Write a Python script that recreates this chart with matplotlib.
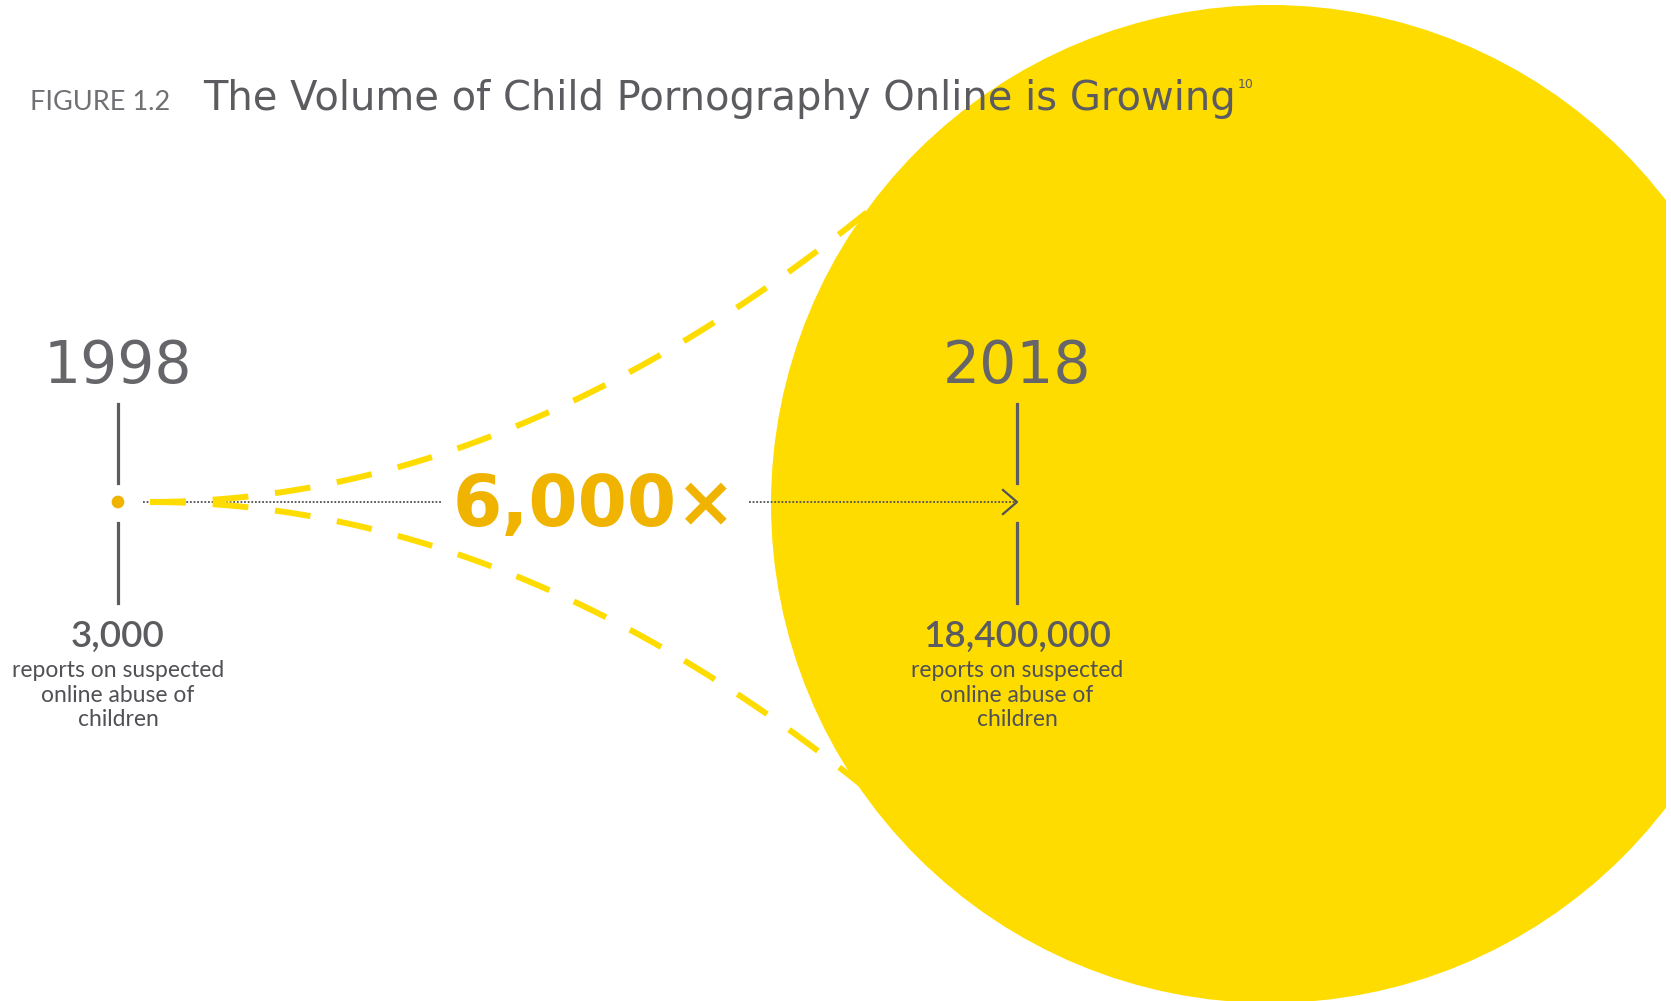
import numpy as np
import matplotlib
matplotlib.use("Agg")
import matplotlib.pyplot as plt
from matplotlib.patches import Circle, Rectangle

# values shown in the figure
years = [1998, 2018]
reports = [3000, 18400000]
report_labels = ["3,000", "18,400,000"]
growth_label = "6,000\u00d7"
sub_label = "reports on suspected\nonline abuse of\nchildren"
fig_tag = "FIGURE 1.2"
title = "The Volume of Child Pornography Online is Growing"
footnote = "10"

YELLOW = "#FFDC00"
ORANGE = "#F0B400"
GREY = "#5c5c60"
DARK = "#505055"

W, H = 1671, 1001
fig = plt.figure(figsize=(W / 100, H / 100), dpi=100)
ax = fig.add_axes([0, 0, 1, 1])
ax.set_xlim(0, W)
ax.set_ylim(H, 0)
ax.set_aspect("equal")
ax.axis("off")

# timeline layout in pixel units
x_year = [118, 1017]
y_mid = 502
big_c = (1270, 504)
big_r = 499
# the small dot scales with area, like the big circle
dot_r = big_r * np.sqrt(reports[0] / reports[1])


# dashed funnel: quadratic curves from the dot out to the big circle
def bezier(p0, c, p2, n=200):
    t = np.linspace(0, 1, n)[:, None]
    return (1 - t) ** 2 * np.array(p0) + 2 * (1 - t) * t * np.array(c) + t ** 2 * np.array(p2)


def on_circle(y):
    return big_c[0] - np.sqrt(big_r ** 2 - (big_c[1] - y) ** 2)


ax.add_patch(Circle(big_c, big_r, color=YELLOW, zorder=1, lw=0))
ax.add_patch(Rectangle((1666, 0), 10, H, color="white", zorder=1.5, lw=0))

for y_end in [208, 785]:
    pts = bezier((150, y_mid), (510, y_mid), (on_circle(y_end) + 4, y_end))
    ax.plot(pts[:, 0], pts[:, 1], color=YELLOW, lw=4.3, ls=(0, (6, 4.5)),
            solid_capstyle="butt", zorder=3)

# dotted arrow through the middle
ax.plot([143, 442], [y_mid, y_mid], color=DARK, lw=1.3, ls=(0, (1, 1)), zorder=2)
ax.plot([749, x_year[1]], [y_mid, y_mid], color=DARK, lw=1.3, ls=(0, (1, 1)), zorder=4)
ax.plot([x_year[1] - 14, x_year[1], x_year[1] - 14], [y_mid - 12, y_mid, y_mid + 12],
        color=DARK, lw=1.6, zorder=4)

ax.add_patch(Circle((x_year[0], y_mid), dot_r, color=ORANGE, zorder=4, lw=0))

ax.text(594, 526, growth_label, ha="center", va="baseline", fontsize=51,
        fontweight="bold", color=ORANGE, family="DejaVu Sans", zorder=5)

for x, yr, lab in zip(x_year, years, report_labels):
    ax.plot([x, x], [404, 483], color=GREY, lw=2.3, zorder=4)
    ax.plot([x, x], [523, 603], color=GREY, lw=2.3, zorder=4)
    ax.text(x, 383, str(yr), ha="center", va="baseline", fontsize=42,
            color="#66666a", family="DejaVu Sans", zorder=5)
    ax.text(x, 647, lab, ha="center", va="baseline", fontsize=26.5,
            fontweight="semibold", color=GREY, family="Lato", zorder=5)
    ax.text(x, 660, sub_label, ha="center", va="top", fontsize=16.5,
            color=DARK, family="Lato", linespacing=1.22, zorder=5)

# heading
ax.text(30, 110, fig_tag, ha="left", va="baseline", fontsize=19.5,
        color="#707074", family="Lato", zorder=5)
head = ax.text(203, 110, title, ha="left", va="baseline", fontsize=28.8,
               color=GREY, family="DejaVu Sans", zorder=5)

# footnote marker sits just after the end of the heading
fig.canvas.draw()
bb = head.get_window_extent().transformed(ax.transData.inverted())
ax.text(max(bb.x0, bb.x1) + 2, 88, footnote, ha="left", va="baseline", fontsize=9,
        color=GREY, family="DejaVu Sans", zorder=5)

fig.savefig("out.png", dpi=100, facecolor="white")
